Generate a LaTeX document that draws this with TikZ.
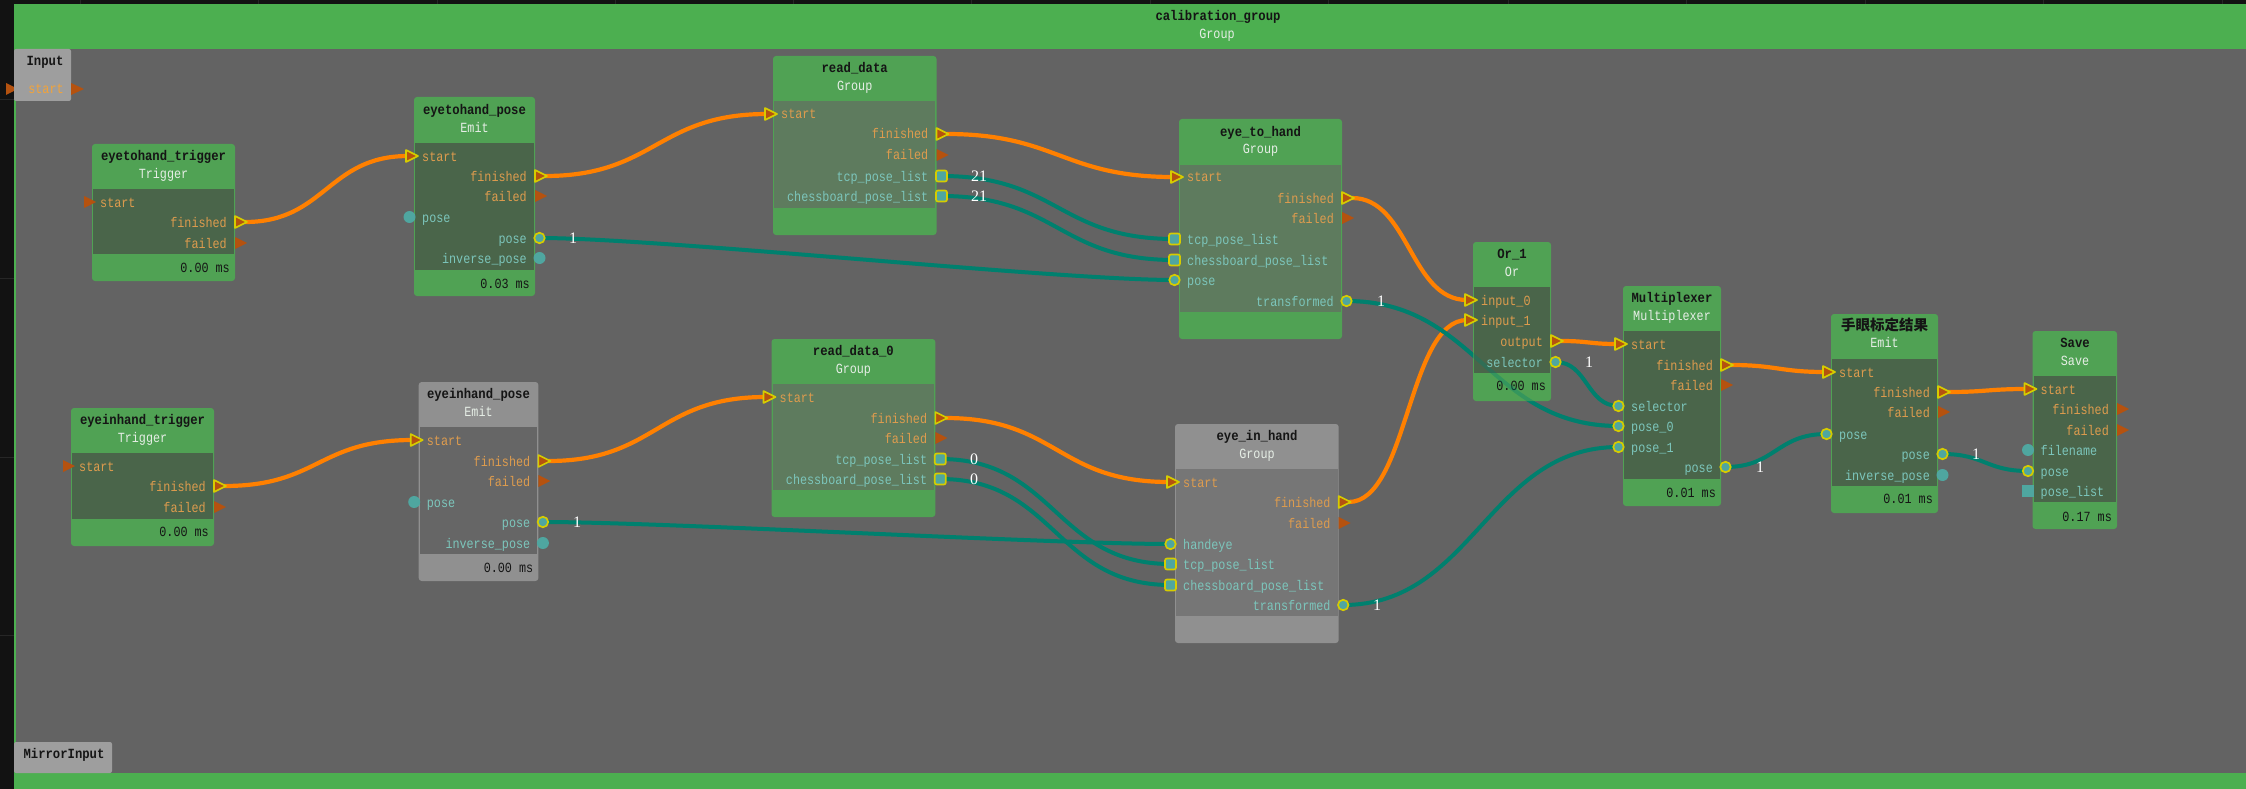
\documentclass[tikz,border=0pt]{standalone}
\usepackage{fontspec}
\setmainfont{Liberation Serif}
\newfontfamily\mono{Liberation Mono}[FakeStretch=0.84]
\newfontfamily\monot{Liberation Mono}[FakeStretch=0.875]
\newfontfamily\cjk{Noto Sans CJK SC}
\newfontfamily\edgeserif{Liberation Serif}
\pgfdeclarelayer{bg}\pgfdeclarelayer{edges}\pgfdeclarelayer{faint}\pgfdeclarelayer{ports}
\pgfsetlayers{bg,edges,main,faint,ports}

\definecolor{darkbg}{HTML}{121212}
\definecolor{gridln}{HTML}{262626}
\definecolor{bggray}{HTML}{636363}
\definecolor{topgreen}{HTML}{4CAF50}
\definecolor{hdrgreen}{HTML}{50A254}
\definecolor{bodydark}{HTML}{4A654A}
\definecolor{bodygroup}{HTML}{5E7B5E}
\definecolor{hdrgray}{HTML}{909090}
\definecolor{bodygraye}{HTML}{666666}
\definecolor{bodygrayg}{HTML}{767676}
\definecolor{inputgray}{HTML}{9E9E9E}
\definecolor{portorange}{HTML}{B5520F}
\definecolor{portyellow}{HTML}{D6CC00}
\definecolor{portteal}{HTML}{4FA6A0}
\definecolor{edgeorange}{HTML}{FF8000}
\definecolor{edgeteal}{HTML}{00806E}
\definecolor{flowtxt}{HTML}{DE9C4E}
\definecolor{datatxt}{HTML}{7CC6BC}
\definecolor{titletxt}{HTML}{151515}
\definecolor{subtxt}{HTML}{E6EEE6}
\definecolor{inputstart}{HTML}{F2A33A}

\newcommand\portfont{\mono\fontsize{14}{14}\selectfont}
\newcommand\ttlfont{\monot\bfseries\fontsize{14}{14}\selectfont}
\newcommand\elfont{\edgeserif\fontsize{16}{16}\selectfont}

\tikzset{
  nodebox/.style={rectangle, rounded corners=3pt, inner sep=0pt, outer sep=0pt},
  flowtri/.style={fill=portorange},
  fconn/.style={draw=portyellow, line width=1.6pt, line join=round},
  dport/.style={circle, fill=portteal, minimum size=12pt, inner sep=0pt},
  dconn/.style={minimum size=10.5pt, draw=portyellow, line width=1.7pt},
  lport/.style={rectangle, fill=portteal, minimum size=12pt, inner sep=0pt},
  lconn/.style={minimum size=11pt, draw=portyellow, line width=1.7pt, rounded corners=2pt},
  flowlbl/.style={font=\portfont, text=flowtxt, inner sep=0pt},
  datalbl/.style={font=\portfont, text=datatxt, inner sep=0pt},
  ttl/.style={font=\ttlfont, text=titletxt, inner sep=0pt, anchor=base},
  subttl/.style={font=\portfont, text=subtxt, inner sep=0pt, anchor=base},
  ftr/.style={font=\portfont, text=titletxt, inner sep=0pt, anchor=base east},
  elbl/.style={font=\elfont, text=white, inner sep=0pt, anchor=base},
  oedge/.style={draw=edgeorange, line width=4.2pt},
  tedge/.style={draw=edgeteal, line width=4pt},
}

\newcommand\mknode[9]{%
  \node[nodebox, fill=#8, anchor=north west, minimum width={(#4-#2)*1pt}, minimum height={(#5-#3)*1pt}] (#1) at (#2,#3) {};
  \fill[#9] (#2+1.2,#6) rectangle (#4-1.2,#7);}
\newcommand\pFin[5][]{%
  \coordinate (#5) at (#2-6,#3);
  \begin{pgfonlayer}{ports}
  \path[flowtri,#1] (#2-8,#3-6) -- (#2-8,#3+6) -- (#2+4,#3) -- cycle;
  \node[flowlbl,anchor=base west] (#5-l) at (#2+8,#3+5) {#4};
  \end{pgfonlayer}}
\newcommand\pFout[5][]{%
  \coordinate (#5) at (#2+10,#3);
  \begin{pgfonlayer}{ports}
  \path[flowtri,#1] (#2,#3-6) -- (#2,#3+6) -- (#2+12,#3) -- cycle;
  \node[flowlbl,anchor=base east] (#5-l) at (#2-8,#3+5) {#4};
  \end{pgfonlayer}}
\newcommand\pDin[5][]{%
  \coordinate (#5) at (#2-4.5,#3);
  \begin{pgfonlayer}{ports}
  \node[dport,#1] (#5-m) at (#5) {};
  \node[datalbl,anchor=base west] (#5-l) at (#2+8,#3+5) {#4};
  \end{pgfonlayer}}
\newcommand\pDout[5][]{%
  \coordinate (#5) at (#2+4.5,#3);
  \begin{pgfonlayer}{ports}
  \node[dport,#1] (#5-m) at (#5) {};
  \node[datalbl,anchor=base east] (#5-l) at (#2-8,#3+5) {#4};
  \end{pgfonlayer}}
\newcommand\pLin[5][]{%
  \coordinate (#5) at (#2-4.5,#3);
  \begin{pgfonlayer}{ports}
  \node[lport,#1] (#5-m) at (#5) {};
  \node[datalbl,anchor=base west] (#5-l) at (#2+8,#3+5) {#4};
  \end{pgfonlayer}}
\newcommand\pLout[5][]{%
  \coordinate (#5) at (#2+5,#3);
  \begin{pgfonlayer}{ports}
  \node[lport,#1] (#5-m) at (#5) {};
  \node[datalbl,anchor=base east] (#5-l) at (#2-8,#3+5) {#4};
  \end{pgfonlayer}}
\newcommand\wire[4][]{\draw[#1] (#2) .. controls +(#4,0) and +(-#4,0) .. (#3);}

\begin{document}
\begin{tikzpicture}[x=1pt,y=-1pt]
\useasboundingbox (0,0) rectangle (2246,789);
\begin{pgfonlayer}{bg}
  \fill[darkbg] (0,0) rectangle (2246,789);
  \foreach \gx in {80,258,437,615,793,971,1150,1328,1508,1686,1865,2043,2222}
    \draw[gridln,line width=1pt] (\gx,0) -- (\gx,4);
  \foreach \gy in {100,278,457,635}
    \draw[gridln,line width=1pt] (0,\gy) -- (14,\gy);
  \fill[bggray] (14,49) rectangle (2246,773);
  \fill[topgreen] (14,4) rectangle (2246,49);
  \fill[topgreen] (14,773) rectangle (2246,789);
  \draw[topgreen,line width=1.5pt] (14.75,49) -- (14.75,773);
\end{pgfonlayer}

% group title
\node[ttl] (grp-t) at (1218,20.5) {calibration\_group};
\node[subttl] (grp-s) at (1217,38.5) {Group};

% Input / MirrorInput
\node[nodebox, rounded corners=2pt, fill=inputgray, anchor=north west, minimum width=57pt, minimum height=52pt] (input) at (14,49) {};
\node[ttl] (input-t) at (45,65.5) {Input};
\node[font=\portfont, text=inputstart, inner sep=0pt, anchor=base] (input-l) at (46,94) {start};
\begin{pgfonlayer}{edges}
  \fill[portorange] (6,83) -- (6,95) -- (18,89) -- cycle;
\end{pgfonlayer}
\begin{pgfonlayer}{ports}
  \fill[portorange] (71,83) -- (71,95) -- (84,89) -- cycle;
\end{pgfonlayer}
\node[nodebox, rounded corners=2pt, fill=inputgray, anchor=north west, minimum width=98pt, minimum height=31pt] (mirror) at (14,742) {};
\node[ttl] (mirror-t) at (64,758.5) {MirrorInput};

% eyetohand_trigger
\mknode{ett}{92}{144}{235}{281}{189}{254}{hdrgreen}{bodydark}
\node[ttl] (ett-t) at (163.5,160.5) {eyetohand\_trigger};
\node[subttl] (ett-s) at (163.5,178.5) {Trigger};
\pFin{92}{202}{start}{ett-start}
\pFout[fconn]{235}{222}{finished}{ett-fin}
\pFout{235}{243}{failed}{ett-fail}
\node[ftr] (ett-ms) at (230,272.5) {0.00 ms};

% eyetohand_pose
\mknode{etp}{414}{97}{535}{296}{143}{270}{hdrgreen}{bodydark}
\node[ttl] (etp-t) at (474.5,114.5) {eyetohand\_pose};
\node[subttl] (etp-s) at (474.5,132.5) {Emit};
\pFin[fconn]{414}{156}{start}{etp-start}
\pFout[fconn]{535}{176}{finished}{etp-fin}
\pFout{535}{196}{failed}{etp-fail}
\pDin{414}{217}{pose}{etp-posein}
\pDout[dconn]{535}{238}{pose}{etp-pose}
\pDout{535}{258}{inverse\_pose}{etp-inv}
\node[ftr] (etp-ms) at (530,288.5) {0.03 ms};

% read_data
\mknode{rd}{773}{56}{936.5}{235}{101}{208}{hdrgreen}{bodygroup}
\node[ttl] (rd-t) at (854.7,72.5) {read\_data};
\node[subttl] (rd-s) at (854.7,90.5) {Group};
\pFin[fconn]{773}{114}{start}{rd-start}
\pFout[fconn]{936.5}{134}{finished}{rd-fin}
\pFout{936.5}{155}{failed}{rd-fail}
\pLout[lconn]{936.5}{176}{tcp\_pose\_list}{rd-tcp}
\pLout[lconn]{936.5}{196}{chessboard\_pose\_list}{rd-chess}

% eye_to_hand
\mknode{eth}{1179}{119}{1342}{339}{165}{312}{hdrgreen}{bodygroup}
\node[ttl] (eth-t) at (1260.5,136.5) {eye\_to\_hand};
\node[subttl] (eth-s) at (1260.5,153.5) {Group};
\pFin[fconn]{1179}{177}{start}{eth-start}
\pFout[fconn]{1342}{198}{finished}{eth-fin}
\pFout{1342}{218}{failed}{eth-fail}
\pLin[lconn]{1179}{239}{tcp\_pose\_list}{eth-tcp}
\pLin[lconn]{1179}{260}{chessboard\_pose\_list}{eth-chess}
\pDin[dconn]{1179}{280}{pose}{eth-pose}
\pDout[dconn]{1342}{301}{transformed}{eth-tr}

% eyeinhand_trigger
\mknode{eit}{71}{408}{214}{546}{453}{519}{hdrgreen}{bodydark}
\node[ttl] (eit-t) at (142.5,424.5) {eyeinhand\_trigger};
\node[subttl] (eit-s) at (142.5,442.5) {Trigger};
\pFin{71}{466}{start}{eit-start}
\pFout[fconn]{214}{486}{finished}{eit-fin}
\pFout{214}{507}{failed}{eit-fail}
\node[ftr] (eit-ms) at (209,536.5) {0.00 ms};

% eyeinhand_pose
\mknode{eip}{418.7}{382}{538.4}{581}{427}{554}{hdrgray}{bodygraye}
\node[ttl] (eip-t) at (478.5,398.5) {eyeinhand\_pose};
\node[subttl] (eip-s) at (478.5,416.5) {Emit};
\pFin[fconn]{418.7}{440}{start}{eip-start}
\pFout[fconn]{538.4}{461}{finished}{eip-fin}
\pFout{538.4}{481}{failed}{eip-fail}
\pDin{418.7}{502}{pose}{eip-posein}
\pDout[dconn]{538.4}{522}{pose}{eip-pose}
\pDout{538.4}{543}{inverse\_pose}{eip-inv}
\node[ftr] (eip-ms) at (533.4,572.5) {0.00 ms};

% read_data_0
\mknode{rd0}{771.5}{339}{935.3}{517}{384}{490}{hdrgreen}{bodygroup}
\node[ttl] (rd0-t) at (853.4,355.5) {read\_data\_0};
\node[subttl] (rd0-s) at (853.4,373.5) {Group};
\pFin[fconn]{771.5}{397}{start}{rd0-start}
\pFout[fconn]{935.3}{418}{finished}{rd0-fin}
\pFout{935.3}{438}{failed}{rd0-fail}
\pLout[lconn]{935.3}{459}{tcp\_pose\_list}{rd0-tcp}
\pLout[lconn]{935.3}{479}{chessboard\_pose\_list}{rd0-chess}

% eye_in_hand
\mknode{eih}{1175}{424}{1338.7}{643}{469}{616}{hdrgray}{bodygrayg}
\node[ttl] (eih-t) at (1257,440.5) {eye\_in\_hand};
\node[subttl] (eih-s) at (1257,458.5) {Group};
\pFin[fconn]{1175}{482}{start}{eih-start}
\pFout[fconn]{1338.7}{502}{finished}{eih-fin}
\pFout{1338.7}{523}{failed}{eih-fail}
\pDin[dconn]{1175}{544}{handeye}{eih-he}
\pLin[lconn]{1175}{564}{tcp\_pose\_list}{eih-tcp}
\pLin[lconn]{1175}{585}{chessboard\_pose\_list}{eih-chess}
\pDout[dconn]{1338.7}{605}{transformed}{eih-tr}

% Or_1
\mknode{or1}{1473}{242}{1551}{401}{287}{373}{hdrgreen}{bodydark}
\node[ttl] (or1-t) at (1512,258.5) {Or\_1};
\node[subttl] (or1-s) at (1512,276.5) {Or};
\pFin[fconn]{1473}{300}{input\_0}{or-in0}
\pFin[fconn]{1473}{320}{input\_1}{or-in1}
\pFout[fconn]{1551}{341}{output}{or-out}
\pDout[dconn]{1551}{362}{selector}{or-sel}
\node[ftr] (or1-ms) at (1546,390.5) {0.00 ms};

% Multiplexer
\mknode{mux}{1623}{286}{1721}{506}{331}{479}{hdrgreen}{bodydark}
\node[ttl] (mux-t) at (1672,302.5) {Multiplexer};
\node[subttl] (mux-s) at (1672,320.5) {Multiplexer};
\pFin[fconn]{1623}{344}{start}{mux-start}
\pFout[fconn]{1721}{365}{finished}{mux-fin}
\pFout{1721}{385}{failed}{mux-fail}
\pDin[dconn]{1623}{406}{selector}{mux-sel}
\pDin[dconn]{1623}{426}{pose\_0}{mux-p0}
\pDin[dconn]{1623}{447}{pose\_1}{mux-p1}
\pDout[dconn]{1721}{467}{pose}{mux-pose}
\node[ftr] (mux-ms) at (1716,497.5) {0.01 ms};

% result emit
\mknode{res}{1831}{314}{1938}{513}{359}{486}{hdrgreen}{bodydark}
\node[ttl, font=\cjk\bfseries\fontsize{14.5}{14.5}\selectfont] (res-t) at (1884.5,330.5) {手眼标定结果};
\node[subttl] (res-s) at (1884.5,347.5) {Emit};
\pFin[fconn]{1831}{372}{start}{res-start}
\pFout[fconn]{1938}{392}{finished}{res-fin}
\pFout{1938}{412}{failed}{res-fail}
\pDin[dconn]{1831}{434}{pose}{res-posein}
\pDout[dconn]{1938}{454}{pose}{res-pose}
\pDout{1938}{475}{inverse\_pose}{res-inv}
\node[ftr] (res-ms) at (1933,503.5) {0.01 ms};

% Save
\mknode{sav}{2032.5}{331}{2117}{529}{376}{502}{hdrgreen}{bodydark}
\node[ttl] (sav-t) at (2075,347.5) {Save};
\node[subttl] (sav-s) at (2075,365.5) {Save};
\pFin[fconn]{2032.5}{389}{start}{sav-start}
\pFout{2117}{409}{finished}{sav-fin}
\pFout{2117}{430}{failed}{sav-fail}
\pDin{2032.5}{450}{filename}{sav-fn}
\pDin[dconn]{2032.5}{471}{pose}{sav-pose}
\pLin{2032.5}{491}{pose\_list}{sav-pl}
\node[ftr] (sav-ms) at (2112,521.5) {0.17 ms};

% connectors
\begin{pgfonlayer}{edges}
  \wire[oedge]{ett-fin}{etp-start}{80}
  \wire[oedge]{etp-fin}{rd-start}{110}
  \wire[oedge]{rd-fin}{eth-start}{110}
  \wire[oedge]{eth-fin}{or-in0}{57}
  \wire[oedge]{eit-fin}{eip-start}{95}
  \wire[oedge]{eip-fin}{rd0-start}{108}
  \wire[oedge]{rd0-fin}{eih-start}{112}
  \wire[oedge]{eih-fin}{or-in1}{59}
  \wire[oedge]{or-out}{mux-start}{28}
  \wire[oedge]{mux-fin}{res-start}{45}
  \wire[oedge]{res-fin}{sav-start}{38}
  \wire[tedge]{etp-pose}{eth-pose}{120}
  \wire[tedge]{rd-tcp}{eth-tcp}{116}
  \wire[tedge]{rd-chess}{eth-chess}{116}
  \wire[tedge]{eip-pose}{eih-he}{120}
  \wire[tedge]{rd0-tcp}{eih-tcp}{115}
  \wire[tedge]{rd0-chess}{eih-chess}{115}
  \wire[tedge]{eth-tr}{mux-p0}{130}
  \wire[tedge]{eih-tr}{mux-p1}{130}
  \wire[tedge]{or-sel}{mux-sel}{32}
  \wire[tedge]{mux-pose}{res-posein}{50}
  \wire[tedge]{res-pose}{sav-pose}{42}
\end{pgfonlayer}
\begin{pgfonlayer}{faint}
  \wire[tedge,opacity=0.35]{eth-tr}{mux-p0}{130}
\end{pgfonlayer}

% connector labels
\begin{pgfonlayer}{ports}
  \node[elbl] (lb1) at (573,243.5) {1};
  \node[elbl] (lb2) at (979,181.5) {21};
  \node[elbl] (lb3) at (979,201.5) {21};
  \node[elbl] (lb4) at (577,527.5) {1};
  \node[elbl] (lb5) at (974,464.5) {0};
  \node[elbl] (lb6) at (974,484.5) {0};
  \node[elbl] (lb7) at (1381,306.5) {1};
  \node[elbl] (lb8) at (1377,610.5) {1};
  \node[elbl] (lb9) at (1589,367.5) {1};
  \node[elbl] (lb10) at (1760,472.5) {1};
  \node[elbl] (lb11) at (1976,459.5) {1};
\end{pgfonlayer}
\end{tikzpicture}
\end{document}
